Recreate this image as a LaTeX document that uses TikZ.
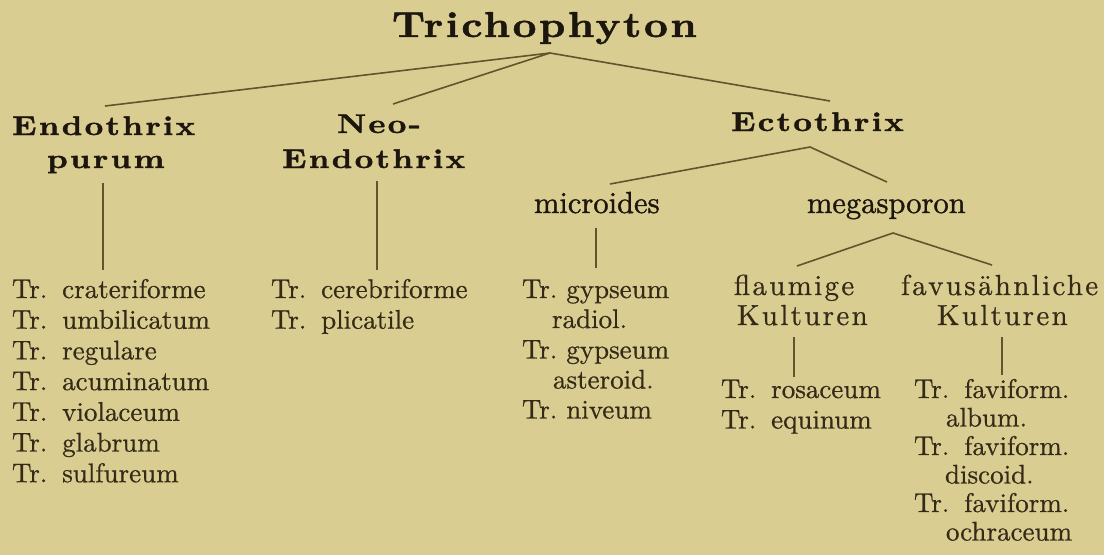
\documentclass[tikz,border=0pt]{standalone}
\usepackage{fontspec}
\usepackage{graphicx}
\newfontfamily\titlefont{lmroman10-bold.otf}[LetterSpace=6,FakeBold=1.2]
\newfontfamily\headfont{lmroman10-bold.otf}[LetterSpace=7,FakeBold=1.2]
\newfontfamily\sperrfont{lmroman10-regular.otf}[LetterSpace=8,FakeBold=0.6]
\newfontfamily\itemfont{lmroman10-regular.otf}[FakeBold=0.6]
\newfontfamily\subfont{lmroman10-regular.otf}[FakeBold=1.2]
\definecolor{paper}{RGB}{218,205,145}
\definecolor{ink}{RGB}{52,42,24}
\definecolor{inkdark}{RGB}{28,22,14}
\definecolor{rulecol}{RGB}{100,84,45}
\newcommand\trsp{Tr.\hspace{0.55em}}
\begin{document}
\begin{tikzpicture}[x=1pt,y=-1pt,
  every node/.style={inner sep=0pt, outer sep=0pt, text=ink},
  titlebox/.style={anchor=base west, font=\titlefont\fontsize{36}{40}\selectfont, text=inkdark},
  headbox/.style={anchor=base west, font=\headfont\fontsize{27}{30}\selectfont, text=inkdark},
  subbox/.style={anchor=base west, font=\subfont\fontsize{30.5}{36}\selectfont, text=inkdark},
  sperrbox/.style={anchor=base west, font=\sperrfont\fontsize{29}{34}\selectfont},
  itembox/.style={anchor=base west, font=\itemfont\fontsize{27}{32}\selectfont},
  link/.style={draw=rulecol, line width=1.6pt},
  vlink/.style={draw=rulecol, line width=1.4pt}
]
\fill[paper] (0,0) rectangle (1104,555);
\useasboundingbox (0,0) rectangle (1104,555);

% headings
\node[titlebox] (tri) at (392,37) {\scalebox{1.15}[1]{Trichophyton}};
\node[headbox] (endo1) at (12,135) {\scalebox{1.2}[1]{Endothrix}};
\node[headbox] (endo2) at (47,168) {\scalebox{1.2}[1]{purum}};
\node[headbox] (neo1) at (337,133) {\scalebox{1.2}[1]{Neo-}};
\node[headbox] (neo2) at (282,168) {\scalebox{1.2}[1]{Endothrix}};
\node[headbox] (ecto) at (731,131) {\scalebox{1.2}[1]{Ectothrix}};
\node[subbox] (micro) at (534,213) {microides};
\node[subbox] (mega) at (807,213) {megasporon};
\node[sperrbox] (flau1) at (734,295) {flaumige};
\node[sperrbox] (flau2) at (737,325) {Kulturen};
\node[sperrbox] (favu1) at (901,295) {favusähnliche};
\node[sperrbox] (favu2) at (937,325) {Kulturen};

% column 1
\node[itembox] (c1a) at (12,298) {\trsp crateriforme};
\node[itembox] (c1b) at (12,328.7) {\trsp umbilicatum};
\node[itembox] (c1c) at (12,359.4) {\trsp regulare};
\node[itembox] (c1d) at (12,390.1) {\trsp acuminatum};
\node[itembox] (c1e) at (12,420.8) {\trsp violaceum};
\node[itembox] (c1f) at (12,451.5) {\trsp glabrum};
\node[itembox] (c1g) at (12,482.2) {\trsp sulfureum};
% column 2
\node[itembox] (c2a) at (271,298) {\trsp cerebriforme};
\node[itembox] (c2b) at (271,328.7) {\trsp plicatile};
% column 3
\node[itembox] (c3a) at (522,298) {Tr.\ gypseum};
\node[itembox] (c3b) at (552,328) {radiol.};
\node[itembox] (c3c) at (522,358.5) {Tr.\ gypseum};
\node[itembox] (c3d) at (553,388.5) {asteroid.};
\node[itembox] (c3e) at (522,418.5) {Tr.\ niveum};
% column 4
\node[itembox] (c4a) at (721,398) {\trsp rosaceum};
\node[itembox] (c4b) at (721,428.5) {\trsp equinum};
% column 5
\node[itembox] (c5a) at (914,398) {\trsp faviform.};
\node[itembox] (c5b) at (946,426.5) {album.};
\node[itembox] (c5c) at (914,455) {\trsp faviform.};
\node[itembox] (c5d) at (945,483.5) {discoid.};
\node[itembox] (c5e) at (914,512) {\trsp faviform.};
\node[itembox] (c5f) at (946,540.5) {ochraceum};

% connector end points
\coordinate (triA) at (550,53);
\coordinate (endoT) at (105,106);
\coordinate (neoT) at (393,104);
\coordinate (ectoT) at (830,101);
\coordinate (ectoA) at (810,147);
\coordinate (microT) at (610,184);
\coordinate (megaT) at (887,182);
\coordinate (megaA) at (893,233);
\coordinate (flauT) at (797,266);
\coordinate (favuT) at (992,265);
\coordinate (endoB) at (103,183);
\coordinate (endoL) at (103,270);
\coordinate (neoB) at (377,181);
\coordinate (neoL) at (377,270);
\coordinate (microB) at (596,228);
\coordinate (microL) at (596,268);
\coordinate (flauB) at (794,337);
\coordinate (flauL) at (794,377);
\coordinate (favuB) at (1002,337);
\coordinate (favuL) at (1002,375);

\draw[link] (endoT) -- (triA) -- (ectoT);
\draw[link] (triA) -- (neoT);
\draw[link] (microT) -- (ectoA) -- (megaT);
\draw[link] (flauT) -- (megaA) -- (favuT);
\draw[vlink] (endoB) -- (endoL);
\draw[vlink] (neoB) -- (neoL);
\draw[vlink] (microB) -- (microL);
\draw[vlink] (flauB) -- (flauL);
\draw[vlink] (favuB) -- (favuL);
\end{tikzpicture}
\end{document}
